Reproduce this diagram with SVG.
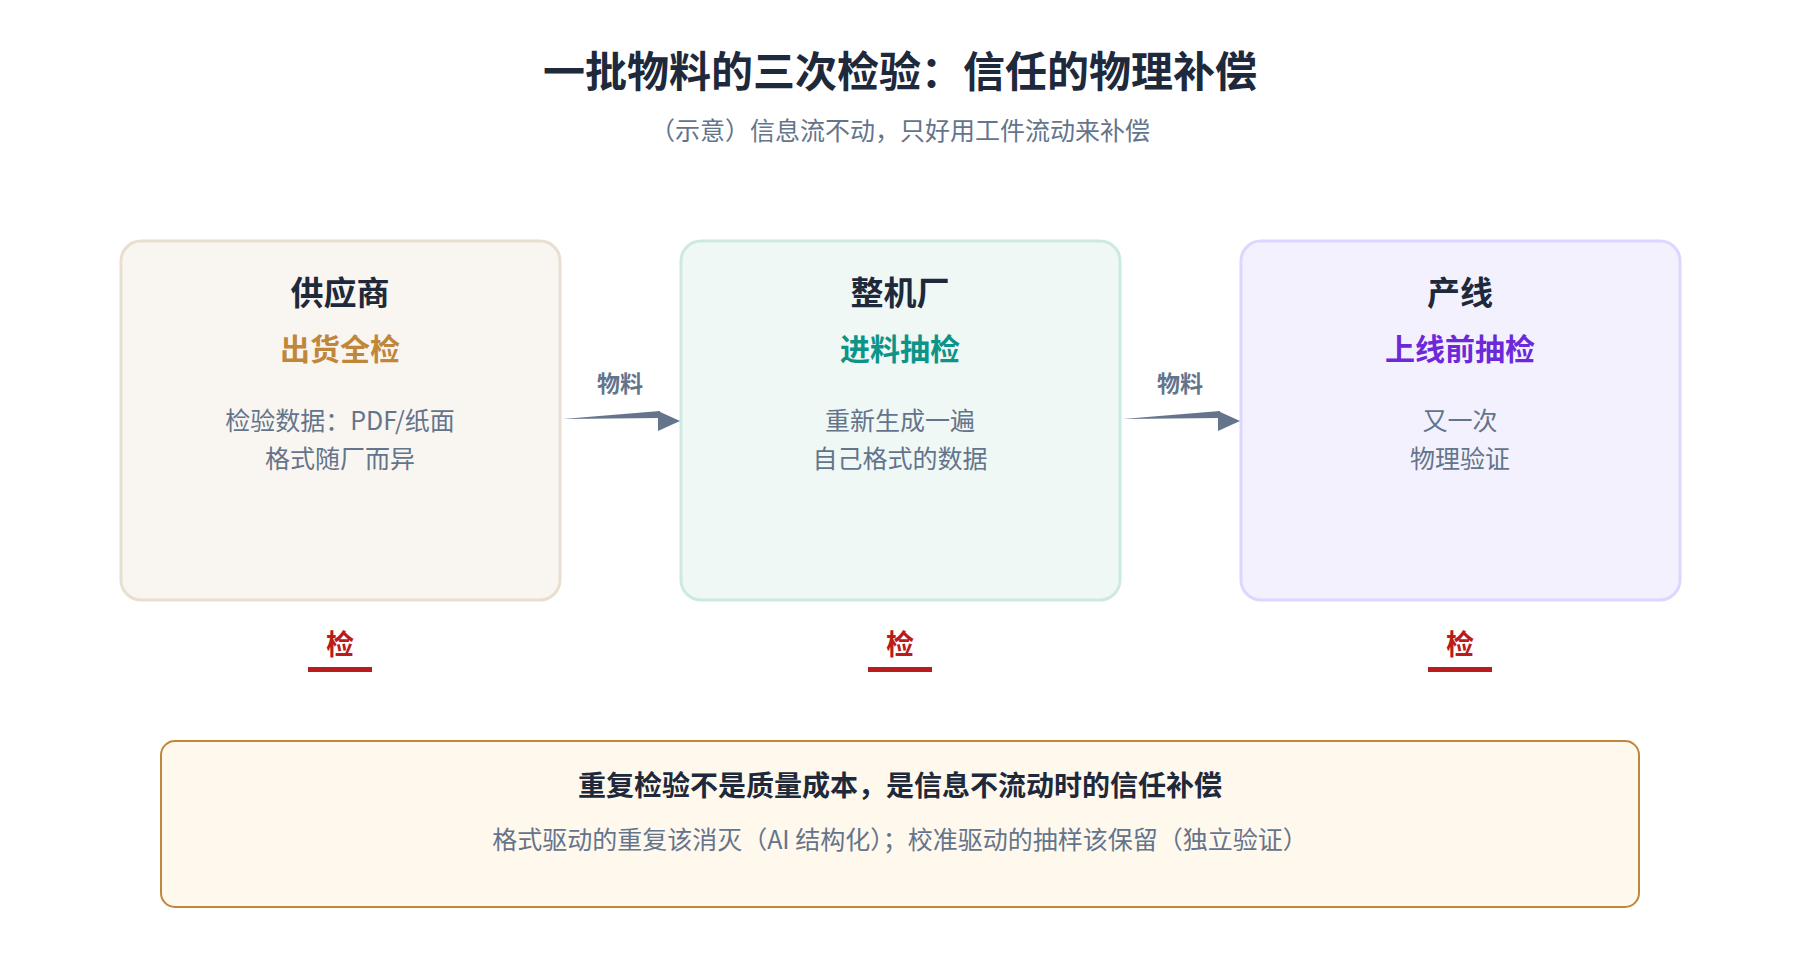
<svg xmlns="http://www.w3.org/2000/svg" width="1800" height="960" viewBox="0 0 1800 960">
<style>
text{font-family:"Noto Sans CJK SC","Noto Sans",sans-serif;text-anchor:middle}
.t{font-size:33px;font-weight:700;fill:#1e293b}
.b{font-size:25px;fill:#64748b}
.k{font-size:28px;font-weight:700;fill:#b91c1c}
.lbl{font-size:23px;font-weight:700;fill:#64748b}
</style>
<rect width="1800" height="960" fill="#fff"/>
<text x="900" y="87" style="font-size:42px;font-weight:700;fill:#1e293b">一批物料的三次检验：信任的物理补偿</text>
<text x="900" y="140" class="b">（示意）信息流不动，只好用工件流动来补偿</text>
<g id="n1"><rect x="121" y="241" width="439" height="359" rx="20" fill="#f9f6f1" stroke="#e8dfd1" stroke-width="3"/>
<text x="340" y="305" class="t">供应商</text><text x="340" y="360" style="font-size:30px;font-weight:700;fill:#c0873a">出货全检</text>
<text x="340" y="430" class="b">检验数据：PDF/纸面</text><text x="340" y="468" class="b">格式随厂而异</text></g>
<g id="n2"><rect x="681" y="241" width="439" height="359" rx="20" fill="#eff8f5" stroke="#cdeae2" stroke-width="3"/>
<text x="900" y="305" class="t">整机厂</text><text x="900" y="360" style="font-size:30px;font-weight:700;fill:#0d9488">进料抽检</text>
<text x="900" y="430" class="b">重新生成一遍</text><text x="900" y="468" class="b">自己格式的数据</text></g>
<g id="n3"><rect x="1241" y="241" width="439" height="359" rx="20" fill="#f3f1fe" stroke="#ddd6fe" stroke-width="3"/>
<text x="1460" y="305" class="t">产线</text><text x="1460" y="360" style="font-size:30px;font-weight:700;fill:#6d28d9">上线前抽检</text>
<text x="1460" y="430" class="b">又一次</text><text x="1460" y="468" class="b">物理验证</text></g>
<g id="connectors" fill="#64748b">
<polygon points="563,419 660,411 660,418"/><polygon points="658,411 680,421 658,431"/>
<text x="620" y="392" class="lbl">物料</text>
<polygon points="1123,419 1220,411 1220,418"/><polygon points="1218,411 1240,421 1218,431"/>
<text x="1180" y="392" class="lbl">物料</text>
</g>
<g id="checks">
<text x="340" y="655" class="k">检</text><rect x="308" y="667" width="64" height="5" fill="#b91c1c"/>
<text x="900" y="655" class="k">检</text><rect x="868" y="667" width="64" height="5" fill="#b91c1c"/>
<text x="1460" y="655" class="k">检</text><rect x="1428" y="667" width="64" height="5" fill="#b91c1c"/>
</g>
<g id="summary"><rect x="161" y="741" width="1478" height="166" rx="14" fill="#fff8ed" stroke="#c0873a" stroke-width="2"/>
<text x="900" y="796" style="font-size:28px;font-weight:700;fill:#1e293b">重复检验不是质量成本，是信息不流动时的信任补偿</text>
<text x="900" y="849" class="b">格式驱动的重复该消灭（AI 结构化）；校准驱动的抽样该保留（独立验证）</text></g>
</svg>
